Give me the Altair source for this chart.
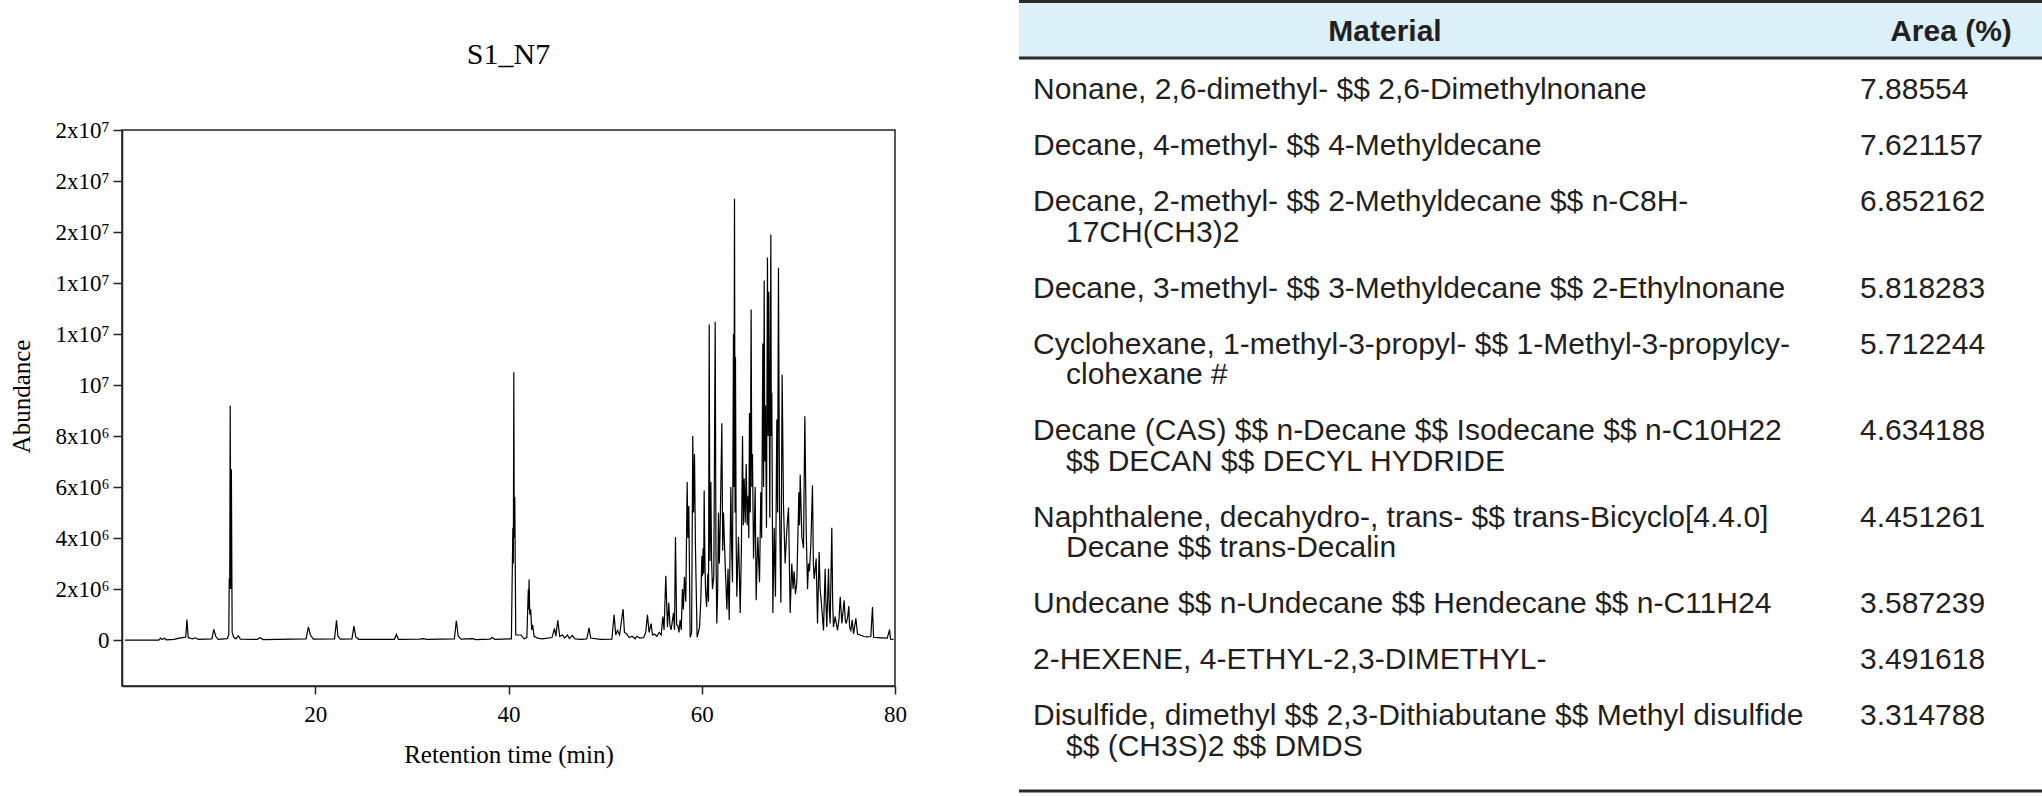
import altair as alt
import pandas as pd

# ---------------- chromatogram data (retention time in min, abundance in millions) -------------
rt = [0.3, 3.8, 4.0, 4.15, 4.4, 4.6, 5.4, 5.8, 6.3, 6.6, 6.72, 6.85, 7.3, 7.6, 7.9, 9.3, 9.5, 9.7, 9.95,
      10.9, 11.05, 11.1, 11.15, 11.2, 11.26, 11.32, 11.4, 11.55, 11.8, 12.04, 12.25, 14.0, 14.3, 14.6,
      19.05, 19.29, 19.5, 19.8, 22.0, 22.2, 22.35, 22.6, 23.8, 24.0, 24.2, 24.5, 28.2, 28.4, 28.6,
      30.8, 31.2, 31.5, 34.4, 34.6, 34.8, 35.1, 36.3, 36.6, 38.1, 38.3, 38.6, 40.3, 40.45, 40.5, 40.55,
      40.6, 40.65, 40.75, 41.3, 41.6, 41.9, 42.05, 42.09, 42.13, 42.2, 42.3, 42.4, 42.5, 42.65, 43.0,
      43.5, 44.5, 44.76, 44.9, 45.1, 45.3, 45.6, 45.8, 46.1, 46.3, 46.6, 46.9, 47.5, 48.1, 48.34, 48.5,
      49.5, 50.7, 50.93, 51.1, 51.28, 51.5, 51.86, 52.0, 52.24, 52.5, 52.8, 53.1, 53.28, 53.6, 54.0,
      54.2, 54.38, 54.55, 54.76, 54.9, 55.1, 55.35, 55.6, 55.8, 55.97, 56.1, 56.28, 56.45, 56.59, 56.7,
      56.83, 57.07, 57.18, 57.28, 57.4, 57.52, 57.64, 57.76, 57.88, 58.0, 58.1, 58.21, 58.35, 58.49,
      58.57, 58.66, 58.8, 58.95, 59.07, 59.15, 59.25, 59.35, 59.52, 59.65, 59.77, 59.9, 60.01, 60.07,
      60.14, 60.2, 60.25, 60.32, 60.39, 60.5, 60.63, 60.7, 60.77, 60.85, 60.94, 61.02, 61.11, 61.25,
      61.39, 61.47, 61.56, 61.65, 61.73, 61.82, 61.9, 62.08, 62.17, 62.25, 62.42, 62.6, 62.72, 62.84,
      63.01, 63.1, 63.18, 63.28, 63.33, 63.39, 63.45, 63.49, 63.56, 63.63, 63.8, 63.9, 63.98, 64.1,
      64.22, 64.3, 64.39, 64.5, 64.6, 64.7, 64.8, 64.87, 64.94, 65.02, 65.11, 65.18, 65.25, 65.36,
      65.45, 65.53, 65.63, 65.72, 65.81, 65.9, 65.98, 66.11, 66.2, 66.32, 66.4, 66.46, 66.53, 66.6,
      66.7, 66.8, 66.87, 66.94, 67.04, 67.15, 67.2, 67.25, 67.36, 67.5, 67.63, 67.77, 67.85, 67.94,
      68.05, 68.19, 68.32, 68.46, 68.63, 68.8, 68.98, 69.15, 69.32, 69.45, 69.56, 69.7, 69.84, 70.05,
      70.12, 70.19, 70.36, 70.53, 70.67, 70.81, 70.95, 71.05, 71.15, 71.29, 71.46, 71.55, 71.64, 71.84,
      71.98, 72.15, 72.25, 72.36, 72.6, 72.77, 72.85, 72.94, 73.12, 73.2, 73.29, 73.46, 73.55, 73.63,
      73.81, 74.05, 74.2, 74.33, 74.5, 74.74, 74.85, 74.95, 75.1, 75.22, 75.3, 75.43, 75.57, 75.71,
      75.95, 76.12, 76.4, 76.8, 77.09, 77.5, 77.67, 77.78, 78.2, 78.64, 79.2, 79.44, 79.54, 79.85]

abund_m = [0.0, 0.0, 0.08, 0.02, 0.07, 0.01, 0.03, 0.07, 0.1, 0.12, 0.81, 0.1, 0.05, 0.09, 0.03, 0.05, 0.42, 0.15, 0.03,
           0.06, 0.2, 2.42, 2.0, 9.2, 2.0, 6.7, 0.3, 0.12, 0.05, 0.17, 0.04, 0.03, 0.09, 0.02,
           0.05, 0.52, 0.2, 0.04, 0.05, 0.78, 0.15, 0.04, 0.05, 0.55, 0.12, 0.03, 0.03, 0.22, 0.03,
           0.04, 0.06, 0.03, 0.05, 0.76, 0.15, 0.04, 0.06, 0.02, 0.04, 0.1, 0.03, 0.05, 4.4, 3.0, 10.5,
           4.0, 5.6, 0.2, 0.2, 0.05, 0.1, 1.98, 1.2, 2.38, 1.0, 1.2, 0.4, 0.6, 0.15, 0.08,
           0.05, 0.1, 0.46, 0.15, 0.78, 0.15, 0.2, 0.08, 0.2, 0.06, 0.18, 0.05, 0.03, 0.05, 0.48, 0.08,
           0.03, 0.04, 0.99, 0.2, 0.38, 0.2, 1.22, 0.3, 0.24, 0.1, 0.15, 0.05, 0.15, 0.08, 0.1,
           0.3, 0.99, 0.3, 0.65, 0.2, 0.24, 0.15, 0.3, 0.2, 0.92, 0.4, 2.52, 0.5, 1.46, 0.6,
           0.4, 1.06, 0.4, 4.04, 0.6, 0.58, 0.3, 0.79, 0.4, 2.0, 1.2, 2.48, 1.5, 6.2,
           4.0, 5.26, 0.11, 0.3, 8.0, 5.0, 7.3, 3.6, 0.11, 0.3, 0.51, 1.5, 3.3, 2.5,
           3.6, 2.6, 5.87, 3.3, 2.0, 1.3, 2.6, 1.5, 12.37, 3.1, 6.2, 3.1, 2.0, 2.5,
           12.48, 3.5, 0.65, 2.0, 4.99, 3.0, 4.3, 8.5, 3.5, 5.0, 3.0, 1.2, 2.8, 0.79,
           6.0, 3.5, 2.27, 12.0, 6.0, 17.3, 5.0, 11.1, 4.0, 1.7, 4.04, 2.5, 1.06, 3.5,
           8.0, 4.5, 6.34, 4.6, 6.9, 4.5, 5.66, 4.0, 8.9, 5.0, 12.96, 6.0, 7.3, 3.2,
           4.5, 6.0, 1.56, 3.0, 4.04, 3.0, 2.27, 5.8, 4.0, 11.63, 6.0, 14.1, 7.0, 9.2,
           4.4, 15.0, 8.0, 13.66, 4.8, 15.9, 8.0, 9.7, 1.06, 4.4, 1.7, 8.65, 5.0, 14.6,
           5.1, 1.46, 10.4, 5.26, 3.0, 4.3, 5.2, 1.06, 3.0, 2.0, 2.7, 1.8, 2.27, 5.8,
           4.5, 6.48, 4.04, 3.6, 8.78, 4.3, 2.0, 3.0, 2.7, 3.75, 6.07, 3.0, 2.4, 3.2,
           0.65, 3.45, 2.0, 1.56, 0.38, 2.8, 1.5, 0.51, 2.8, 1.2, 0.65, 4.4, 1.5, 0.51,
           0.92, 0.38, 0.8, 1.7, 0.65, 1.56, 0.8, 0.65, 0.9, 1.33, 0.5, 0.38, 0.79, 0.24,
           0.85, 0.24, 0.2, 0.14, 0.13, 0.14, 1.3, 0.11, 0.1, 0.09, 0.08, 0.41, 0.04, 0.03]

chart_title = "S1_N7"
x_ticks = [20, 40, 60, 80]
y_ticks = [0, 2000000, 4000000, 6000000, 8000000, 10000000, 12000000, 14000000, 16000000, 18000000, 20000000]
y_tick_labels = ["0", "2x10⁶", "4x10⁶", "6x10⁶", "8x10⁶", "10⁷", "1x10⁷", "1x10⁷", "2x10⁷", "2x10⁷", "2x10⁷"]

# ---------------- table data ----------------
table_header = ["Material", "Area (%)"]
materials = [
    "Nonane, 2,6-dimethyl- $$ 2,6-Dimethylnonane",
    "Decane, 4-methyl- $$ 4-Methyldecane",
    "Decane, 2-methyl- $$ 2-Methyldecane $$ n-C8H-\n17CH(CH3)2",
    "Decane, 3-methyl- $$ 3-Methyldecane $$ 2-Ethylnonane",
    "Cyclohexane, 1-methyl-3-propyl- $$ 1-Methyl-3-propylcy-\nclohexane #",
    "Decane (CAS) $$ n-Decane $$ Isodecane $$ n-C10H22\n$$ DECAN $$ DECYL HYDRIDE",
    "Naphthalene, decahydro-, trans- $$ trans-Bicyclo[4.4.0]\nDecane $$ trans-Decalin",
    "Undecane $$ n-Undecane $$ Hendecane $$ n-C11H24",
    "2-HEXENE, 4-ETHYL-2,3-DIMETHYL-",
    "Disulfide, dimethyl $$ 2,3-Dithiabutane $$ Methyl disulfide\n$$ (CH3S)2 $$ DMDS",
]
areas = ["7.88554", "7.621157", "6.852162", "5.818283", "5.712244",
         "4.634188", "4.451261", "3.587239", "3.491618", "3.314788"]

# ---------------- layout constants ----------------
W, H = 773, 556            # plot area of chromatogram
PAD_L, PAD_T = 122, 130    # plot origin on the page
PAGE_W, PAGE_H = 2042, 796
ROW0, ROW_PITCH, LINE_H = 99, 56, 30.5

df = pd.DataFrame({"rt": rt, "abundance": [v * 1e6 for v in abund_m]})

label_expr = " : ".join(f"datum.value == {v} ? '{l}'" for v, l in zip(y_ticks, y_tick_labels)) + " : ''"

serif = "Liberation Serif"
sans = "Liberation Sans"
ink = "#231f20"

chrom = alt.Chart(df).mark_line(color="black", strokeWidth=1.2, clip=True).encode(
    x=alt.X("rt:Q", scale=alt.Scale(domain=[0, 80], nice=False, zero=False),
            axis=alt.Axis(values=x_ticks, title="Retention time (min)", format="d",
                          tickSize=8, labelPadding=9, titleY=68, titleBaseline="middle",
                          labelFlush=False)),
    y=alt.Y("abundance:Q", scale=alt.Scale(domain=[-1800000, 20000000], nice=False, zero=False),
            axis=alt.Axis(values=y_ticks, labelExpr=label_expr, title="Abundance",
                          tickSize=9, labelPadding=4, titleX=-101, titleY=H / 2 - 12,
                          titleAngle=270, titleAlign="center", titleBaseline="middle")),
)

title_df = pd.DataFrame({"t": [chart_title]})
title_layer = alt.Chart(title_df).mark_text(font=serif, fontSize=30, color="black",
                                            baseline="middle", align="center").encode(
    x=alt.value(W / 2), y=alt.value(55 - PAD_T), text="t:N")

# table rows
line_recs, cont_recs, area_recs = [], [], []
ypos = ROW0
for m, a in zip(materials, areas):
    parts = m.split("\n")
    for j, p in enumerate(parts):
        (line_recs if j == 0 else cont_recs).append({"text": p, "ypos": ypos + j * LINE_H})
    area_recs.append({"text": a, "ypos": ypos})
    ypos += ROW_PITCH + LINE_H * (len(parts) - 1)

tbl_y = alt.Scale(domain=[0, PAGE_H], range=[-PAD_T, PAGE_H - PAD_T], nice=False, zero=False)

def txt_layer(recs, xpage, **kw):
    return alt.Chart(pd.DataFrame(recs)).mark_text(
        font=sans, fontSize=30, color=ink, align="left", baseline="alphabetic", **kw).encode(
        x=alt.value(xpage - PAD_L), y=alt.Y("ypos:Q", scale=tbl_y, axis=None), text="text:N")

rows_first = txt_layer(line_recs, 1033)
rows_cont = txt_layer(cont_recs, 1066)
rows_area = txt_layer(area_recs, 1860)

hdr_df = pd.DataFrame({"text": table_header, "ypos": [41, 41]})
hdr_mat = alt.Chart(hdr_df.iloc[[0]]).mark_text(font=sans, fontSize=30, fontWeight="bold", color=ink,
                                                 align="center", baseline="alphabetic").encode(
    x=alt.value(1385 - PAD_L), y=alt.Y("ypos:Q", scale=tbl_y, axis=None), text="text:N")
hdr_area = alt.Chart(hdr_df.iloc[[1]]).mark_text(font=sans, fontSize=30, fontWeight="bold", color=ink,
                                                  align="center", baseline="alphabetic").encode(
    x=alt.value(1951 - PAD_L), y=alt.Y("ypos:Q", scale=tbl_y, axis=None), text="text:N")

dummy = pd.DataFrame({"k": [0]})
band = alt.Chart(dummy).mark_rect(color="#dcf0fa").encode(
    x=alt.value(1019 - PAD_L), x2=alt.value(PAGE_W - PAD_L),
    y=alt.value(2 - PAD_T), y2=alt.value(57 - PAD_T))

def hrule(ypage):
    return alt.Chart(dummy).mark_rule(color="#2b2b2b", strokeWidth=3).encode(
        x=alt.value(1019 - PAD_L), x2=alt.value(PAGE_W - PAD_L), y=alt.value(ypage - PAD_T))

chart = alt.layer(
    band, hrule(1.5), hrule(58), hrule(791),
    chrom, title_layer, hdr_mat, hdr_area, rows_first, rows_cont, rows_area
).resolve_scale(y="independent").properties(
    width=W, height=H,
    padding={"left": PAD_L, "top": PAD_T, "right": PAGE_W - PAD_L - W, "bottom": PAGE_H - PAD_T - H},
    autosize=alt.AutoSizeParams(type="none"),
    background="white",
).configure_view(stroke="#222", strokeWidth=1.5).configure_axis(
    labelFont=serif, labelFontSize=23, labelColor="black",
    titleFont=serif, titleFontSize=25, titleFontWeight="normal", titleColor="black",
    tickColor="#222", domainColor="#222", tickWidth=1.5, domainWidth=1.5, grid=False,
)

chart.save("out.html", embed_options={"renderer": "svg", "actions": False})
